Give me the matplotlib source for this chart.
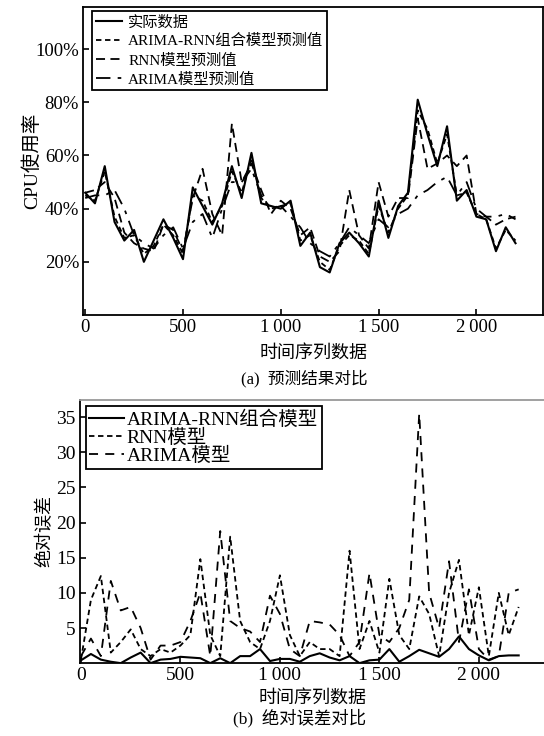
import matplotlib
matplotlib.use("Agg")
import matplotlib.pyplot as plt
from matplotlib.ticker import FuncFormatter

plt.rcParams['font.family'] = ['Liberation Serif', 'Noto Sans CJK SC']
plt.rcParams['axes.linewidth'] = 1.3

# time index of the samples
t = list(range(0, 2201, 50))

# (a) CPU usage, percent
actual = [46, 42, 56, 35, 28, 32, 20, 28, 36, 29, 21, 48, 41, 34, 42, 56, 44, 61, 42, 41,
          40, 43, 26, 31, 18, 16, 27, 31, 27, 22, 43, 29, 41, 46, 81, 68, 56, 71, 43, 47,
          37, 36, 24, 33, 27]
pred_combo = [45, 43, 54, 37, 29, 30, 23, 26, 34, 30, 23, 45, 43, 35, 41, 54, 46, 59, 44, 40,
              41, 42, 28, 30, 20, 17, 26, 30, 28, 23, 41, 31, 40, 45, 77, 70, 57, 68, 45, 46,
              38, 36, 25, 32, 28]
pred_rnn = [46, 47, 50, 44, 31, 27, 25, 24, 34, 32, 24, 44, 55, 38, 30, 72, 50, 57, 47, 38,
            43, 40, 30, 33, 22, 20, 24, 47, 30, 25, 50, 37, 44, 44, 74, 55, 57, 60, 56, 60,
            38, 37, 34, 36, 37]
pred_arima = [44, 45, 45, 47, 40, 30, 27, 25, 30, 33, 25, 35, 38, 29, 40, 50, 50, 55, 45, 40,
              41, 37, 33, 27, 24, 22, 27, 33, 30, 27, 36, 33, 38, 40, 45, 47, 50, 52, 45, 50,
              40, 37, 37, 38, 36]

# (b) absolute errors
err_combo = [0.4, 1.3, 0.5, 0.2, 0.0, 0.8, 1.5, 0.0, 0.5, 0.6, 0.9, 0.8, 0.7, 0.0, 0.7, 0.0,
             1.0, 1.0, 2.0, 0.3, 0.6, 0.6, 0.2, 1.0, 1.4, 0.8, 0.4, 1.0, 0.0, 0.4, 0.5, 2.0,
             0.2, 1.0, 1.9, 1.4, 0.9, 2.0, 3.8, 2.0, 1.1, 0.4, 1.0, 1.1, 1.1]
err_rnn = [0.5, 9.0, 12.4, 1.5, 3.0, 4.8, 2.0, 1.0, 2.0, 1.5, 2.5, 4.0, 14.8, 4.0, 1.0, 18.0,
           6.0, 3.0, 2.0, 6.0, 12.5, 4.0, 1.0, 3.0, 2.0, 2.0, 1.0, 16.0, 2.0, 6.0, 1.5, 12.0,
           4.0, 2.0, 9.5, 7.0, 1.0, 10.0, 14.7, 4.0, 10.8, 1.0, 10.0, 4.0, 8.0]
err_arima = [1.0, 3.5, 1.0, 11.7, 7.5, 8.0, 5.0, 0.5, 2.5, 2.5, 3.0, 6.0, 10.0, 1.0, 18.8, 6.0,
             5.0, 4.5, 3.0, 9.6, 7.0, 2.0, 1.0, 6.0, 5.8, 5.5, 4.0, 1.0, 3.0, 12.8, 4.0, 3.0,
             5.0, 9.0, 35.5, 10.0, 5.0, 14.5, 3.0, 10.5, 2.0, 0.5, 1.0, 10.0, 10.5]

labels_a = ['实际数据', 'ARIMA-RNN组合模型预测值', 'RNN模型预测值', 'ARIMA模型预测值']
labels_b = ['ARIMA-RNN组合模型', 'RNN模型', 'ARIMA模型']
xticks = [0, 500, 1000, 1500, 2000]


def thou(v, pos):
    v = int(v)
    if v >= 1000:
        return '%d\u2009%03d' % (v // 1000, v % 1000)
    return str(v)


fig = plt.figure(figsize=(5.44, 7.36), dpi=100)

# ---- (a) ----
ax1 = fig.add_axes([0.153, 0.572, 0.845, 0.419])
ax1.plot(t, actual, color='black', lw=1.5, ls='-', label=labels_a[0])
ax1.plot(t, pred_combo, color='black', lw=1.3, ls=(0, (3, 2)), label=labels_a[1])
ax1.plot(t, pred_rnn, color='black', lw=1.3, ls=(0, (5, 3)), label=labels_a[2])
ax1.plot(t, pred_arima, color='black', lw=1.3, ls=(0, (8, 4, 2, 4)), label=labels_a[3])
ax1.set_xlim(-10, 2340)
ax1.set_ylim(0, 116)
ax1.set_xticks(xticks)
ax1.xaxis.set_major_formatter(FuncFormatter(thou))
ax1.set_yticks([20, 40, 60, 80, 100])
ax1.set_yticklabels(['20%', '40%', '60%', '80%', '100%'])
ax1.tick_params(direction='in', length=4, width=1.2, labelsize=13.5, pad=3)
ax1.set_ylabel('CPU使用率', fontsize=14, labelpad=-4)
ax1.set_xlabel('时间序列数据', fontsize=13, labelpad=6)
leg1 = ax1.legend(loc='upper left', bbox_to_anchor=(0.02, 0.985), fontsize=11,
                  frameon=True, fancybox=False, framealpha=1, edgecolor='black',
                  handlelength=1.7, handletextpad=0.4, borderpad=0.25, labelspacing=0.33,
                  borderaxespad=0)
leg1.get_frame().set_linewidth(1.3)
fig.text(0.56, 0.486, '(a)  预测结果对比', ha='center', va='center', fontsize=12)

# ---- (b) ----
ax2 = fig.add_axes([0.147, 0.099, 0.854, 0.358])
ax2.plot(t, err_combo, color='black', lw=1.5, ls='-', label=labels_b[0])
ax2.plot(t, err_rnn, color='black', lw=1.3, ls=(0, (3, 2)), label=labels_b[1])
ax2.plot(t, err_arima, color='black', lw=1.3, ls=(0, (5, 4)), label=labels_b[2])
ax2.set_xlim(-5, 2330)
ax2.set_ylim(0, 37.5)
ax2.set_xticks(xticks)
ax2.xaxis.set_major_formatter(FuncFormatter(thou))
ax2.set_yticks([5, 10, 15, 20, 25, 30, 35])
ax2.tick_params(direction='in', length=4, width=1.2, labelsize=14, pad=3)
ax2.spines['top'].set_color('#999999')
ax2.set_ylabel('绝对误差', fontsize=13, labelpad=2)
ax2.set_xlabel('时间序列数据', fontsize=13, labelpad=4)
leg2 = ax2.legend(loc='upper left', bbox_to_anchor=(0.012, 0.975), fontsize=14,
                  frameon=True, fancybox=False, framealpha=1, edgecolor='black',
                  handlelength=1.8, handletextpad=0.1, borderpad=0.2, labelspacing=0.0,
                  borderaxespad=0)
leg2.get_frame().set_linewidth(1.3)
fig.text(0.55, 0.024, '(b)  绝对误差对比', ha='center', va='center', fontsize=12.5)

fig.savefig('out.png', dpi=100)
